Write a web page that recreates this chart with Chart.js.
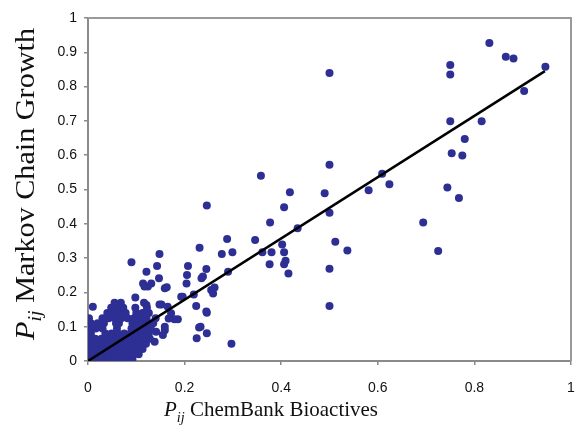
<!DOCTYPE html>
<html>
<head>
<meta charset="utf-8">
<script src="https://cdn.jsdelivr.net/npm/chart.js@4.4.1/dist/chart.umd.min.js"></script>
<style>
  html, body { margin: 0; padding: 0; background: #ffffff; }
  #wrap { width: 576px; height: 441px; }
</style>
</head>
<body>
<div id="wrap"><canvas id="c" width="576" height="441"></canvas></div>
<script>
// ---- Data ----
const xTickLabels = ["0", "0.2", "0.4", "0.6", "0.8", "1"];
const yTickLabels = ["0", "0.1", "0.2", "0.3", "0.4", "0.5", "0.6", "0.7", "0.8", "0.9", "1"];

// Scattered points (larger values)
const highX = [0.5,0.75,0.75,0.831,0.865,0.881,0.947,0.903,0.75,0.815,
               0.78,0.753,0.775,0.5,0.609,0.49,0.581,0.624,0.744,0.768,
               0.5,0.694,0.725,0.358,0.418,0.246,0.406,0.377,0.434,0.288,
               0.346,0.512,0.537,0.277,0.299,0.231,0.361,0.38,0.402,0.406,
               0.409,0.376,0.406,0.415,0.5,0.29,0.245,0.238,0.262,0.259,
               0.5,0.246,0.233,0.246,0.297];
const highY = [0.84,0.863,0.835,0.927,0.887,0.882,0.858,0.787,0.699,0.699,
               0.647,0.606,0.599,0.572,0.546,0.489,0.498,0.515,0.506,0.475,
               0.432,0.404,0.321,0.54,0.492,0.453,0.448,0.404,0.387,0.356,
               0.353,0.348,0.322,0.312,0.317,0.33,0.317,0.317,0.34,0.317,
               0.292,0.282,0.282,0.255,0.269,0.26,0.268,0.246,0.214,0.197,
               0.16,0.141,0.1,0.081,0.05];

// Mid-range points
const midX = [0.148,0.090,0.143,0.121,0.207,0.147,0.205,0.235,0.124,0.163,
              0.204,0.098,0.148,0.193,0.219,0.224,0.245,0.010,0.167,0.186,
              0.230,0.225,0.159,0.117,0.131,0.255,0.196,0.152,0.172,0.179,
              0.159,0.155,0.121,0.114,0.127,0.141,0.121,0.138,0.110,0.165,
              0.159,0.114];
const midY = [0.312,0.288,0.277,0.260,0.277,0.241,0.251,0.241,0.217,0.215,
              0.226,0.185,0.165,0.187,0.194,0.160,0.144,0.158,0.124,0.122,
              0.098,0.066,0.100,0.217,0.226,0.207,0.187,0.165,0.139,0.122,
              0.090,0.076,0.163,0.139,0.110,0.085,0.066,0.056,0.076,0.158,
              0.212,0.226];

// Dense cluster near the origin, row by row (y value of each row, x values in it)
const clusterRowY = [0.005,0.02,0.035,0.05,0.065,0.08,0.095,0.11,0.125,0.14,0.155,0.17];
const clusterRowX = [
  [0.002,0.015,0.028,0.041,0.054,0.067,0.080,0.092],
  [0.004,0.017,0.030,0.043,0.056,0.069,0.082,0.095,0.105],
  [0.002,0.014,0.027,0.040,0.053,0.066,0.079,0.092,0.104,0.113],
  [0.005,0.018,0.031,0.044,0.057,0.070,0.083,0.096,0.108,0.120],
  [0.002,0.015,0.028,0.041,0.054,0.067,0.080,0.093,0.106,0.118,0.128],
  [0.006,0.036,0.049,0.062,0.075,0.088,0.101,0.114,0.126],
  [0.003,0.016,0.030,0.060,0.090,0.103,0.116,0.130],
  [0.006,0.020,0.033,0.058,0.064,0.092,0.105,0.118,0.135],
  [0.002,0.030,0.043,0.056,0.069,0.082,0.095,0.108,0.121,0.140],
  [0.040,0.052,0.065,0.078,0.100,0.113,0.126],
  [0.048,0.060,0.073,0.098,0.122],
  [0.055,0.068,0.116]
];

// Fitted line end points
const fitX = [0, 0.946];
const fitY = [0, 0.845];

// ---- Build datasets ----
const points = [];
highX.forEach((x, i) => points.push({x: x, y: highY[i]}));
midX.forEach((x, i) => points.push({x: x, y: midY[i]}));
clusterRowY.forEach((y, r) => clusterRowX[r].forEach(x => points.push({x: x, y: y})));
const fitLine = fitX.map((x, i) => ({x: x, y: fitY[i]}));

const axisColor = '#8a8a8a';
const tickFont = { family: '"Liberation Sans", Arial', size: 14 };

const titlesPlugin = {
  id: 'titles',
  afterDraw(chart) {
    const ctx = chart.ctx;
    const area = chart.chartArea;
    ctx.save();
    // frame top & right
    ctx.strokeStyle = '#9a9a9a';
    ctx.lineWidth = 2;
    ctx.beginPath();
    ctx.moveTo(area.left, area.top);
    ctx.lineTo(area.right, area.top);
    ctx.lineTo(area.right, area.bottom);
    ctx.stroke();

    function drawTitle(parts, targetLen) {
      let total = 0;
      parts.forEach(p => { ctx.font = p.font; p.w = ctx.measureText(p.text).width; total += p.w; });
      const s = targetLen / total;
      ctx.scale(s, 1);
      let x = 0;
      parts.forEach(p => { ctx.font = p.font; ctx.fillText(p.text, x, p.dy); x += p.w; });
    }
    ctx.fillStyle = '#111111';
    ctx.textBaseline = 'alphabetic';
    ctx.textAlign = 'left';

    // x title
    ctx.save();
    ctx.translate(164, 416);
    drawTitle([
      {text: 'P', font: 'italic 22px "Liberation Serif"', dy: 0},
      {text: 'ij', font: 'italic 15px "Liberation Serif"', dy: 6},
      {text: ' ChemBank Bioactives', font: '22px "Liberation Serif"', dy: 0}
    ], 214);
    ctx.restore();

    // y title
    ctx.save();
    ctx.translate(34, 340);
    ctx.rotate(-Math.PI / 2);
    drawTitle([
      {text: 'P', font: 'italic 27px "Liberation Serif"', dy: 0},
      {text: 'ij', font: 'italic 18px "Liberation Serif"', dy: 7},
      {text: ' Markov Chain Growth', font: '27px "Liberation Serif"', dy: 0}
    ], 312);
    ctx.restore();

    ctx.restore();
  }
};

new Chart(document.getElementById('c'), {
  type: 'scatter',
  data: {
    datasets: [
      {
        type: 'line',
        data: fitLine,
        borderColor: '#000000',
        borderWidth: 2.5,
        pointRadius: 0,
        fill: false,
        order: 0
      },
      {
        data: points,
        backgroundColor: '#2e2f94',
        borderColor: '#2e2f94',
        borderWidth: 0,
        pointRadius: 4,
        order: 1
      }
    ]
  },
  options: {
    responsive: false,
    animation: false,
    devicePixelRatio: 1,
    layout: { padding: { left: 0, right: 5, top: 18, bottom: 0 } },
    plugins: { legend: { display: false }, tooltip: { enabled: false } },
    scales: {
      x: {
        type: 'linear', min: 0, max: 1,
        afterBuildTicks: s => { s.ticks = xTickLabels.map(v => ({value: parseFloat(v)})); },
        ticks: {
          callback: (v, i) => xTickLabels[i],
          font: tickFont,
          color: '#111111', padding: 15, maxRotation: 0
        },
        grid: { drawOnChartArea: false, drawTicks: true, tickLength: 4, color: axisColor, lineWidth: 1.5 },
        border: { display: true, color: axisColor, width: 2 },
        afterFit: s => { s.height = 80; s.paddingLeft = 0; s.paddingRight = 0; }
      },
      y: {
        type: 'linear', min: 0, max: 1,
        afterBuildTicks: s => { s.ticks = yTickLabels.map(v => ({value: parseFloat(v)})); },
        ticks: {
          callback: (v, i) => yTickLabels[i],
          font: tickFont,
          color: '#111111', padding: 7
        },
        grid: { drawOnChartArea: false, drawTicks: true, tickLength: 4, color: axisColor, lineWidth: 1.5 },
        border: { display: true, color: axisColor, width: 2 },
        afterFit: s => { s.width = 88; s.paddingTop = 0; s.paddingBottom = 0; }
      }
    }
  },
  plugins: [titlesPlugin]
});
</script>
</body>
</html>
